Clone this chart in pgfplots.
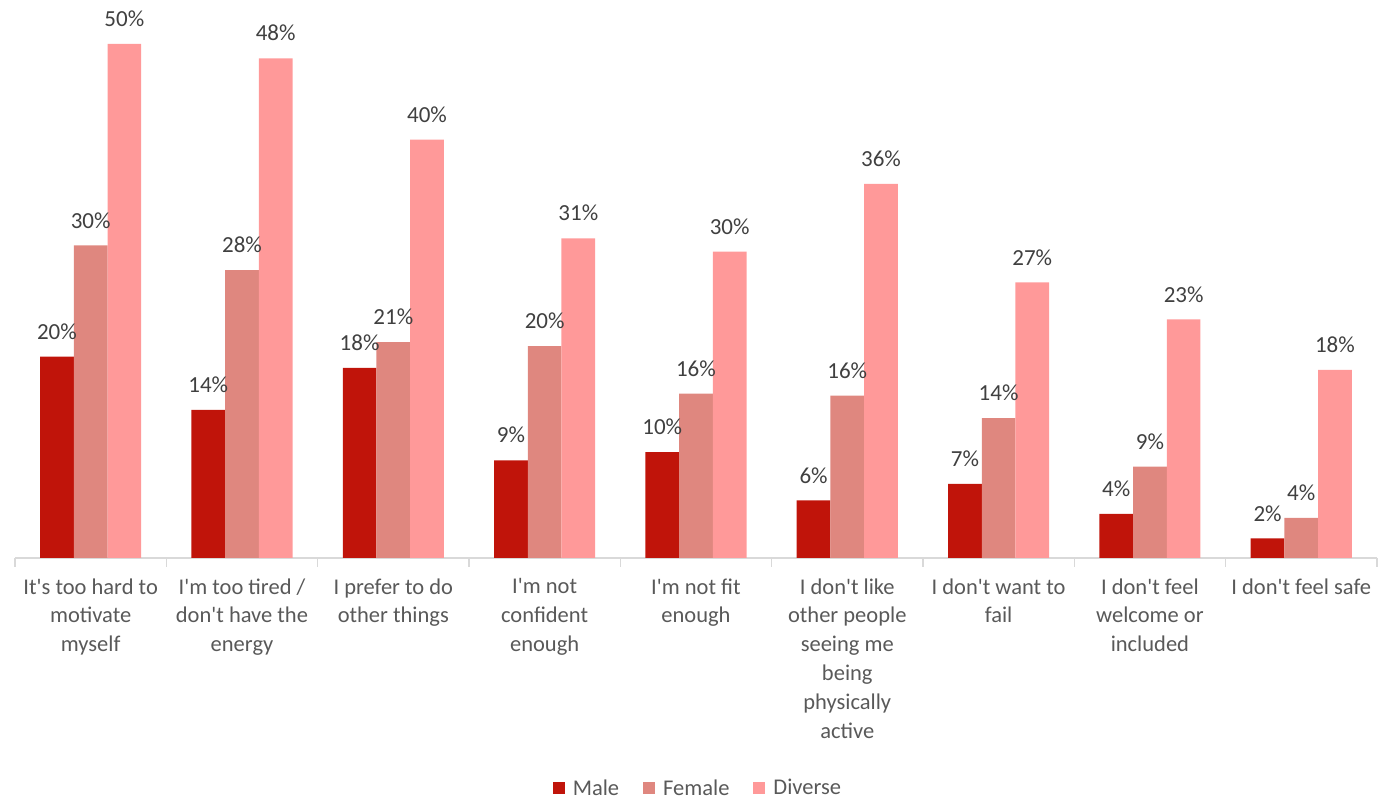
\documentclass[border=0pt]{standalone}
\usepackage{pgfplots}
\pgfplotsset{compat=1.18}
\usepackage{fontspec}
\setmainfont{Carlito}[Ligatures=TeXOff]
\definecolor{male}{HTML}{C0140A}
\definecolor{female}{HTML}{DF877F}
\definecolor{diverse}{HTML}{FF9999}
\definecolor{labgrey}{HTML}{404040}
\definecolor{catgrey}{HTML}{595959}
\definecolor{axgrey}{HTML}{D9D9D9}
\begin{document}
\begin{tikzpicture}[x=1pt,y=1pt]
\useasboundingbox (0,0) rectangle (1399,799);
\begin{axis}[
  at={(15pt,241pt)}, anchor=south west,
  width=1362pt, height=558pt, scale only axis,
  xmin=-0.5, xmax=8.5, ymin=0, ymax=54.28,
  clip=false,
  axis x line*=bottom, axis y line=none,
  x axis line style={axgrey, line width=1.2pt, -},
  xtick={0,...,8},
  major tick length=0pt,
  minor xtick={-0.5,0.5,...,8.5},
  minor tick length=9pt,
  tick align=outside,
  minor tick style={axgrey, line width=1.2pt},
  xticklabels={
    {It's too hard to\\motivate\\myself},
    {I'm too tired /\\don't have the\\energy},
    {I prefer to do\\other things},
    {I'm not\\confident\\enough},
    {I'm not fit\\enough},
    {I don't like\\other people\\seeing me\\being\\physically\\active},
    {I don't want to\\fail},
    {I don't feel\\welcome or\\included},
    {I don't feel safe}},
  xticklabel style={align=center, text=catgrey, font=\fontsize{22.5}{28.8}\selectfont, yshift=-17pt},
  ybar, bar width=33.7pt,
  every axis plot/.append style={draw=none},
  nodes near coords,
  point meta=explicit symbolic,
  every node near coord/.append style={text=labgrey, font=\fontsize{23}{28}\selectfont, anchor=south, inner sep=0pt, yshift=17pt},
  legend columns=3,
  legend style={at={(0.5,-0.4122)}, anchor=center, xshift=-9pt, draw=none, fill=none,
    font=\fontsize{22.5}{26}\selectfont, text=catgrey},
  legend image code/.code={\path[draw=none,fill=none] (0pt,-6pt) rectangle (40pt,6pt); \fill[#1] (22pt,-6pt) rectangle (34pt,6pt);},
]
\addplot[fill=male, bar shift=-33.7pt] table[meta=lab] {
x y lab
0 19.6 20\%
1 14.4 14\%
2 18.5 18\%
3 9.5 9\%
4 10.3 10\%
5 5.6 6\%
6 7.2 7\%
7 4.3 4\%
8 1.9 2\%
};
\addplot[fill=female, bar shift=0pt] table[meta=lab] {
x y lab
0 30.4 30\%
1 28.0 28\%
2 21.0 21\%
3 20.6 20\%
4 16.0 16\%
5 15.8 16\%
6 13.6 14\%
7 8.9 9\%
8 3.9 4\%
};
\addplot[fill=diverse, bar shift=33.7pt] table[meta=lab] {
x y lab
0 50.0 50\%
1 48.6 48\%
2 40.7 40\%
3 31.1 31\%
4 29.8 30\%
5 36.4 36\%
6 26.8 27\%
7 23.2 23\%
8 18.3 18\%
};
\legend{Male, Female, Diverse}
\end{axis}
\end{tikzpicture}
\end{document}
